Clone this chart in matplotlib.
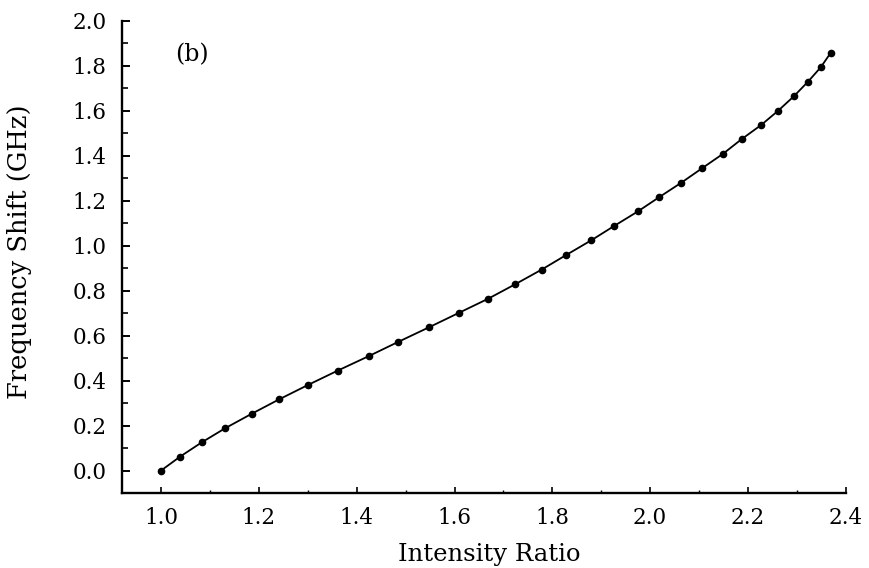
import matplotlib
matplotlib.use("Agg")
import matplotlib.pyplot as plt
from matplotlib.ticker import MultipleLocator, FormatStrFormatter

intensity_ratio = [1.000, 1.039, 1.083, 1.131, 1.185, 1.241, 1.300, 1.361, 1.425, 1.485,
                   1.548, 1.609, 1.669, 1.724, 1.778, 1.829, 1.880, 1.927, 1.975, 2.019,
                   2.064, 2.107, 2.149, 2.187, 2.227, 2.262, 2.294, 2.323, 2.349, 2.369]
frequency_shift = [0.000, 0.062, 0.125, 0.188, 0.252, 0.316, 0.380, 0.444, 0.509, 0.572,
                   0.637, 0.701, 0.764, 0.828, 0.893, 0.959, 1.024, 1.088, 1.152, 1.216,
                   1.280, 1.345, 1.408, 1.473, 1.536, 1.600, 1.664, 1.729, 1.793, 1.856]
x_ticks = [1.0, 1.2, 1.4, 1.6, 1.8, 2.0, 2.2, 2.4]
y_ticks = [0.0, 0.2, 0.4, 0.6, 0.8, 1.0, 1.2, 1.4, 1.6, 1.8, 2.0]
panel_label = "(b)"
x_label = "Intensity Ratio"
y_label = "Frequency Shift (GHz)"

plt.rcParams['font.family'] = ['DejaVu Serif']

fig = plt.figure(figsize=(8.7, 5.68), dpi=100)
ax = fig.add_axes([122/870, 75/568, (845.7-122)/870, (547.3-75)/568])

ax.plot(intensity_ratio, frequency_shift, color='black', lw=1.3,
        marker='o', markersize=4.5, markerfacecolor='black', markeredgecolor='black')

ax.set_xlim(0.92, 2.4)
ax.set_ylim(-0.1, 2.0)

for s in ['top', 'right']:
    ax.spines[s].set_visible(False)
for s in ['left', 'bottom']:
    ax.spines[s].set_linewidth(1.7)

ax.set_xticks(x_ticks)
ax.set_yticks(y_ticks)
ax.xaxis.set_minor_locator(MultipleLocator(0.1))
ax.yaxis.set_minor_locator(MultipleLocator(0.1))
ax.xaxis.set_major_formatter(FormatStrFormatter('%.1f'))
ax.yaxis.set_major_formatter(FormatStrFormatter('%.1f'))

ax.tick_params(axis='x', which='major', direction='in', length=4, width=1.2, pad=10, labelsize=15.5)
ax.tick_params(axis='x', which='minor', direction='in', length=2, width=1.0)
ax.tick_params(axis='y', which='major', direction='in', length=6, width=1.4, pad=11, labelsize=15.5)
ax.tick_params(axis='y', which='minor', direction='in', length=4, width=1.2)

ax.set_xlabel(x_label, fontsize=17.5)
ax.set_ylabel(y_label, fontsize=18.5)
ax.xaxis.set_label_coords(0.508, -0.106)
ax.yaxis.set_label_coords(-0.125, 0.51)

ax.text(1.064, 1.848, panel_label, fontsize=17, ha='center', va='center')

fig.savefig("out.png", dpi=100)
